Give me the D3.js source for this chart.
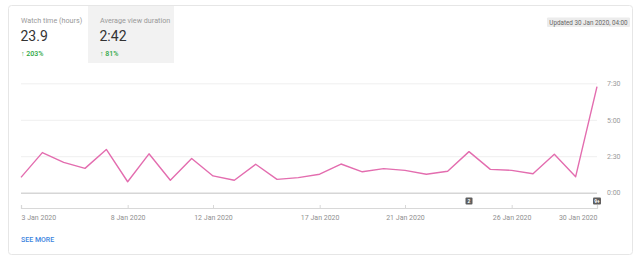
<!DOCTYPE html>
<html>
<head>
<meta charset="utf-8">
<script src="https://cdn.jsdelivr.net/npm/d3@7"></script>
<style>
  body { margin: 0; background: #fff; font-family: Roboto, "Noto Sans", sans-serif; }
  svg { display: block; }
</style>
</head>
<body>
<svg id="chart" width="640" height="257"></svg>
<script>
// daily average view duration, in seconds, 3..30 Jan 2020
const days = d3.range(3, 31).map(d => new Date(2020, 0, d));
const durations = [63, 165, 125, 100, 178, 45, 160, 51, 141, 69, 51, 117, 55, 62,
                   76, 118, 86, 99, 92, 76, 88, 169, 96, 92, 78, 158, 66, 436];
const yTicks = [0, 150, 300, 450];
const xTickDays = [3, 8, 12, 17, 21, 26, 30];
const markers = [{ day: 24, label: "2" }, { day: 30, label: "9+" }];
const tiles = [
  { title: "Watch time (hours)", value: "23.9", change: "203%" },
  { title: "Average view duration", value: "2:42", change: "81%" }
];

const svg = d3.select("#chart");

// card
svg.append("rect")
  .attr("x", 8.5).attr("y", 5.5).attr("width", 624).attr("height", 249)
  .attr("rx", 3)
  .attr("fill", "#fff").attr("stroke", "#e6e6e6");

// metric tiles
const tileW = [79, 86];
let tx = 9;
tiles.forEach((t, i) => {
  const g = svg.append("g").attr("transform", `translate(${tx},6)`);
  if (i === 1) g.append("rect").attr("width", tileW[i]).attr("height", 57).attr("fill", "#f2f2f2");
  g.append("text").attr("x", 12).attr("y", 17)
    .attr("font-size", 7.2).attr("fill", "#999").text(t.title);
  g.append("text").attr("x", 11.5).attr("y", 35)
    .attr("font-size", 14).attr("fill", "#333").text(t.value);
  g.append("text").attr("x", 12).attr("y", 50)
    .attr("font-size", 7).attr("font-weight", 500).attr("fill", "#2ba640")
    .text("\u2191 " + t.change);
  tx += tileW[i];
});

// updated badge
svg.append("rect").attr("x", 547).attr("y", 17.5).attr("width", 83).attr("height", 9.5)
  .attr("rx", 1).attr("fill", "#ececec");
svg.append("text").attr("x", 588.5).attr("y", 24.8).attr("text-anchor", "middle")
  .attr("font-size", 6.3).attr("fill", "#666").text("Updated 30 Jan 2020, 04:00");

// scales
const x = d3.scaleTime()
  .domain([days[0], days[days.length - 1]])
  .range([21, 597]);
const y = d3.scaleLinear().domain([0, 450]).range([192.7, 83.3]);

const fmtDur = s => `${Math.floor(s / 60)}:${String(s % 60).padStart(2, "0")}`;

// gridlines + y labels on the right
const yAxis = svg.append("g")
  .attr("transform", "translate(597,0)")
  .call(d3.axisRight(y).tickValues(yTicks).tickSize(-576).tickFormat(fmtDur).tickPadding(10));
yAxis.select(".domain").remove();
yAxis.selectAll(".tick line")
  .attr("stroke", d => d === 0 ? "#d6d6d6" : "#efefef")
  .attr("stroke-width", d => d === 0 ? 1.5 : 1);
yAxis.selectAll(".tick text")
  .attr("font-size", 7).attr("fill", "#9a9a9a").attr("font-family", "Roboto, sans-serif");

// bottom date axis
const fmtDate = d3.timeFormat("%-d %b %Y");
const xAxis = svg.append("g")
  .attr("transform", "translate(0,208)")
  .call(d3.axisBottom(x)
    .tickValues(xTickDays.map(d => new Date(2020, 0, d)))
    .tickSize(-3).tickPadding(7).tickFormat(fmtDate));
xAxis.select(".domain").attr("stroke", "#d8d8d8").attr("stroke-width", 1.2);
xAxis.selectAll(".tick line").attr("stroke", "#d8d8d8");
xAxis.selectAll(".tick text")
  .attr("font-size", 7).attr("fill", "#8f8f8f").attr("font-family", "Roboto, sans-serif")
  .attr("text-anchor", (d, i, n) => i === 0 ? "start" : i === n.length - 1 ? "end" : "middle");

// line
const line = d3.line()
  .x((d, i) => x(days[i]))
  .y(d => y(d));
svg.append("path")
  .datum(durations)
  .attr("fill", "none")
  .attr("stroke", "#e36daf")
  .attr("stroke-width", 1.4)
  .attr("stroke-linejoin", "round")
  .attr("d", line);

// annotation markers
const mk = svg.selectAll(".marker").data(markers).enter().append("g")
  .attr("class", "marker")
  .attr("transform", d => `translate(${x(new Date(2020, 0, d.day))},201)`);
mk.append("rect")
  .attr("x", d => d.label.length > 1 ? -4 : -3.5).attr("y", -3.5)
  .attr("width", d => d.label.length > 1 ? 8 : 7).attr("height", 7)
  .attr("rx", 1).attr("fill", "#5f5f5f");
mk.append("text").attr("y", 2).attr("text-anchor", "middle")
  .attr("font-size", 5).attr("font-weight", 700).attr("fill", "#fff")
  .text(d => d.label);

// see more link
svg.append("text").attr("x", 21).attr("y", 242)
  .attr("font-size", 7).attr("font-weight", 500).attr("fill", "#3d85e0")
  .text("SEE MORE");
</script>
</body>
</html>
